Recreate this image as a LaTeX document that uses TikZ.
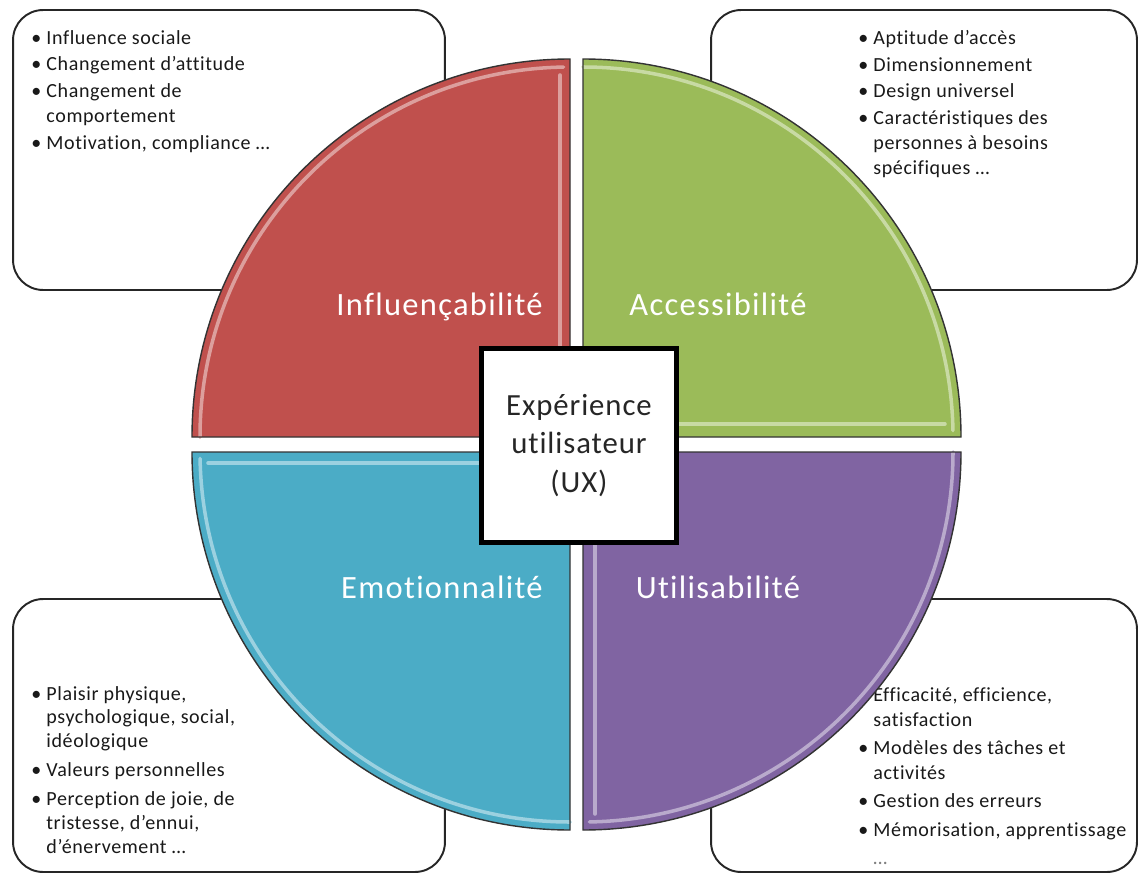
\documentclass[tikz,border=0pt]{standalone}
\usepackage{fontspec}
\setmainfont{Carlito}[Ligatures=NoCommon]
\usetikzlibrary{calc}

\definecolor{qRouge}{HTML}{C0504D}
\definecolor{qVert}{HTML}{9BBB59}
\definecolor{qBleu}{HTML}{4BACC6}
\definecolor{qViolet}{HTML}{8064A2}

\newcommand{\puce}{\textbullet\ }
\newcommand{\retrait}{\hphantom{\textbullet\ }}

\tikzset{
  cadre/.style={draw=black!85, line width=1.1pt, rounded corners=0.6cm, fill=white, inner sep=0pt},
  liste/.style={align=left, inner sep=0pt, font=\fontsize{11.4}{14.2}\selectfont\addfontfeature{LetterSpace=3}, text=black!90},
  quartier/.style={draw=black!80, line width=0.8pt},
  reflet/.style={draw=#1!55!white, line width=2pt, line cap=round},
  titre/.style={inner sep=0pt, text=white, font=\fontsize{18.5}{22}\selectfont\addfontfeature{LetterSpace=4}},
  centre/.style={draw=black, line width=2.6pt, fill=white, minimum width=3.9cm, minimum height=3.88cm,
    align=center, font=\fontsize{17.5}{22}\selectfont\addfontfeature{LetterSpace=3}, text=black!85}
}

\begin{document}
\begin{tikzpicture}[x=0.02cm, y=0.02cm] % 1 unite = 1 pixel
\useasboundingbox (0,0) rectangle (1139,-875);

%CADRE EN HAUT A GAUCHE
\node [cadre, minimum width=8.64cm, minimum height=5.6cm] (cadreHG) at (229,-150) {};
\node [liste, anchor=north west] (texteHG) at (31,-30) {%
\puce Influence sociale\\[1pt]
\puce Changement d’attitude\\[1pt]
\puce Changement de\\
\retrait comportement\\[1pt]
\puce Motivation, compliance …};

%CADRE EN HAUT A DROITE
\node [cadre, minimum width=8.52cm, minimum height=5.6cm] (cadreHD) at (924,-150) {};
\node [liste, anchor=north west] (texteHD) at (858,-30) {%
\puce Aptitude d’accès\\[1pt]
\puce Dimensionnement\\[1pt]
\puce Design universel\\[1pt]
\puce Caractéristiques des\\
\retrait personnes à besoins\\
\retrait spécifiques …};

%CADRE EN BAS A GAUCHE
\node [cadre, minimum width=8.64cm, minimum height=5.46cm] (cadreBG) at (229,-735.5) {};
\node [liste, anchor=north west, font=\fontsize{11.4}{13.5}\selectfont\addfontfeature{LetterSpace=3}] (texteBG) at (31,-686) {%
\puce Plaisir physique,\\
\retrait psychologique, social,\\
\retrait idéologique\\[3pt]
\puce Valeurs personnelles\\[3pt]
\puce Perception de joie, de\\
\retrait tristesse, d’ennui,\\
\retrait d’énervement …};

%CADRE EN BAS A DROITE
\node [cadre, minimum width=8.52cm, minimum height=5.46cm] (cadreBD) at (924,-735.5) {};
\node [liste, anchor=north west] (texteBD) at (858,-687) {%
\puce Efficacité, efficience,\\
\retrait satisfaction\\[2pt]
\puce Modèles des tâches et\\
\retrait activités\\[2pt]
\puce Gestion des erreurs\\[2pt]
\puce Mémorisation, apprentissage\\[2pt]
\retrait {\color{black!50}…}};

%QUARTIER NR. 1 (haut gauche)
\coordinate (cR) at (570,-437);
\fill [qRouge] (cR) -- ++(-378,0) arc [start angle=180, end angle=90, radius=378] -- cycle;
\draw [reflet=qRouge] ($(cR)+(-370,0)$) arc [start angle=180, end angle=91, radius=370];
\draw [reflet=qRouge] ($(cR)+(-10,-8)$) -- ($(cR)+(-10,362)$);
\draw [quartier] (cR) -- ++(-378,0) arc [start angle=180, end angle=90, radius=378] -- cycle;
\node [titre, anchor=base east] (tInfl) at (543,-315) {Influençabilité};

%QUARTIER NR. 2 (haut droite)
\coordinate (cV) at (583,-437);
\fill [qVert] (cV) -- ++(0,378) arc [start angle=90, end angle=0, radius=378] -- cycle;
\draw [reflet=qVert] ($(cV)+(0,370)$) arc [start angle=90, end angle=1, radius=370];
\draw [reflet=qVert] ($(cV)+(8,13)$) -- ($(cV)+(362,13)$);
\draw [quartier] (cV) -- ++(0,378) arc [start angle=90, end angle=0, radius=378] -- cycle;
\node [titre, anchor=base] (tAcc) at (718,-315) {Accessibilité};

%QUARTIER NR. 3 (bas gauche)
\coordinate (cB) at (570,-452);
\fill [qBleu] (cB) -- ++(-378,0) arc [start angle=180, end angle=270, radius=378] -- cycle;
\draw [reflet=qBleu] ($(cB)+(-362,-11)$) -- ($(cB)+(-8,-11)$);
\draw [reflet=qBleu] ($(cB)+(0,-370)$) arc [start angle=270, end angle=181, radius=370];
\draw [quartier] (cB) -- ++(-378,0) arc [start angle=180, end angle=270, radius=378] -- cycle;
\node [titre, anchor=base east] (tEmo) at (543,-598) {Emotionnalité};

%QUARTIER NR. 4 (bas droite)
\coordinate (cP) at (583,-452);
\fill [qViolet] (cP) -- ++(378,0) arc [start angle=0, end angle=-90, radius=378] -- cycle;
\draw [reflet=qViolet] ($(cP)+(12,-8)$) -- ($(cP)+(12,-362)$);
\draw [reflet=qViolet] ($(cP)+(370,0)$) arc [start angle=0, end angle=-89, radius=370];
\draw [quartier] (cP) -- ++(378,0) arc [start angle=0, end angle=-90, radius=378] -- cycle;
\node [titre, anchor=base] (tUtil) at (718,-598) {Utilisabilité};

%BOITE AU CENTRE
\node [centre] (ux) at (579,-445.5) {Expérience\\utilisateur\\(UX)};

\end{tikzpicture}
\end{document}
